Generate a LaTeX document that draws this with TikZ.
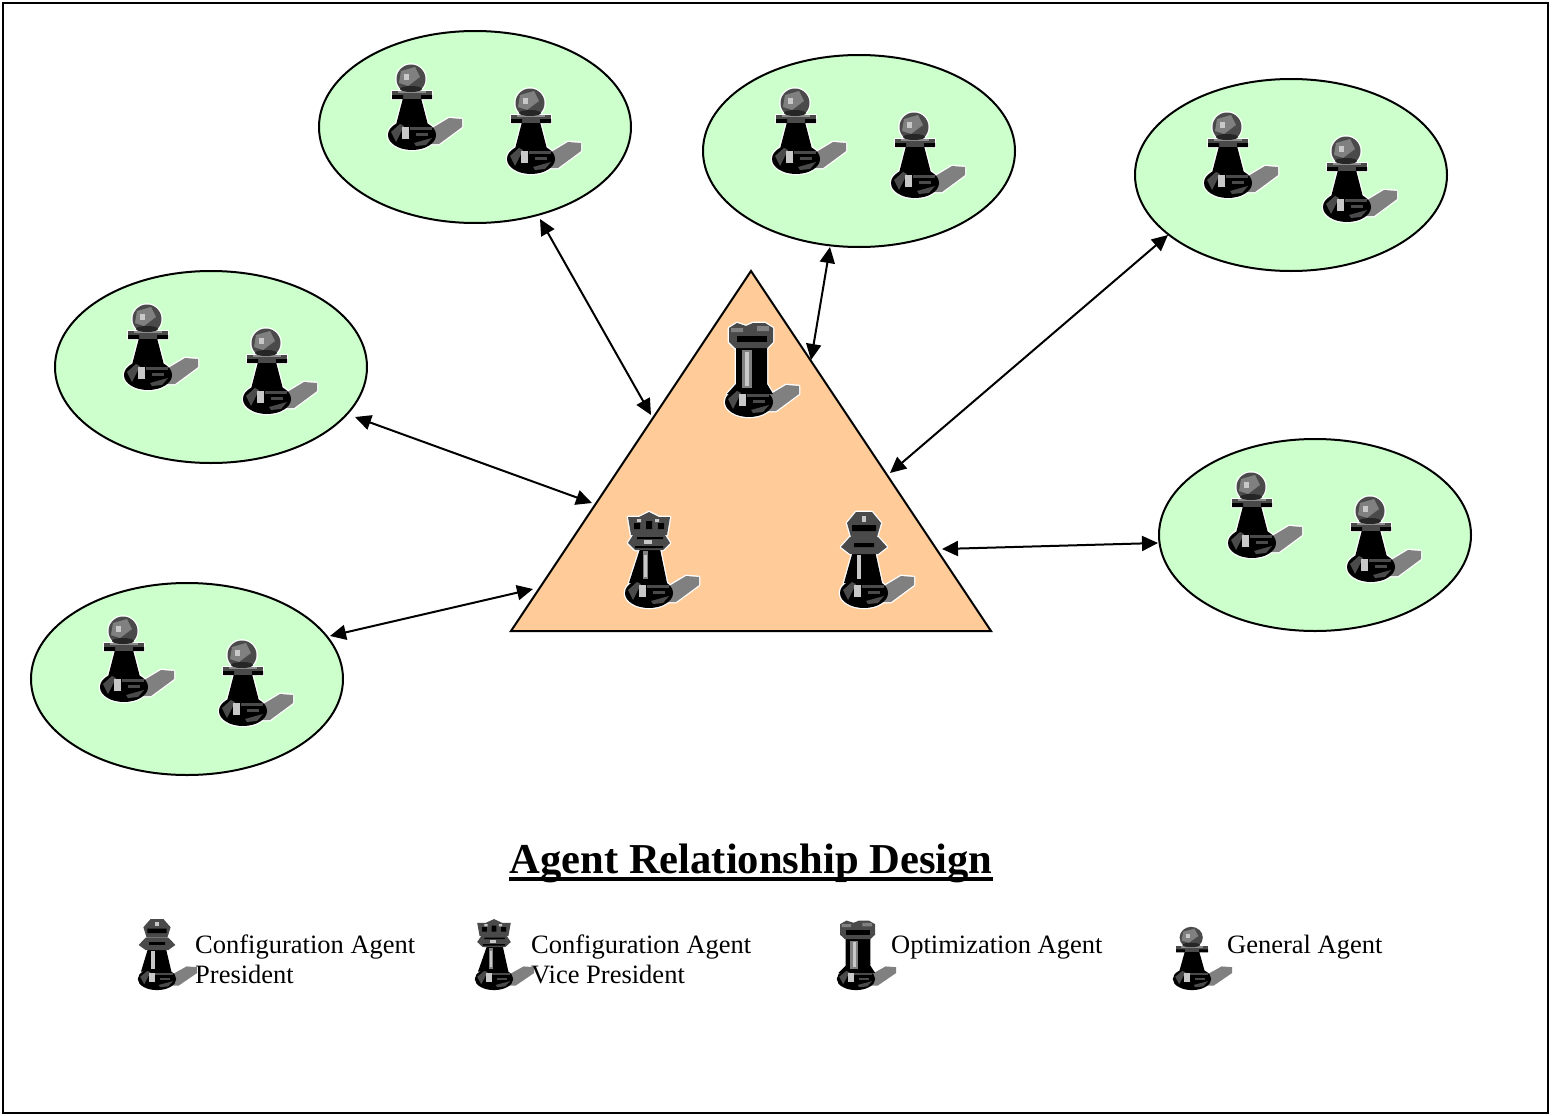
\documentclass[tikz,border=0pt]{standalone}
\usepackage{fontspec}
\setmainfont{Liberation Serif}
\usetikzlibrary{arrows.meta,shapes.geometric}
\definecolor{grp}{HTML}{CCFFCC}
\definecolor{core}{HTML}{FFCC99}
\definecolor{shd}{HTML}{808080}
\definecolor{hd}{HTML}{4A4A4A}
\definecolor{hl}{HTML}{C8C8C8}
\newcommand{\chessshadow}[1]{\path[#1,fill=shd] (14,-4) -- (22,-8) -- (37,-17) -- (50,-16) -- (50,-8) -- (27,9) -- (14,9) -- cycle;}
\newcommand{\chessbase}[1]{\path[#1,fill=black] (0,0) ellipse [x radius=24,y radius=15];}
\newcommand{\chessbasedetail}{
  \fill[hd] (-21,-3) -- (-12,-11) -- (-8,-9) -- (-16,7) -- cycle;
  \fill[hl] (-10,-8) rectangle (-3,4);
  \fill[hd] (-2,-8) rectangle (20,-5);
  \fill[hd] (4,-2) rectangle (16,1);
  \fill[hd] (2,8) -- (20,3) -- (14,10) -- (4,11) -- cycle;
}
\newcommand{\pawnparts}[1]{
  \chessshadow{#1}
  \path[#1,fill=black] (-9,-37) -- (9,-37) -- (16,-10) -- (-16,-10) -- cycle;
  \chessbase{#1}
  \path[#1,fill=hd] (-20,-44) -- (20,-44) -- (20,-36) -- (-20,-36) -- cycle;
  \path[#1,fill=hd] (-1,-56) circle [radius=14.5];
}
\newcommand{\rookparts}[1]{
  \chessshadow{#1}
  \path[#1,fill=black] (-13,-56) -- (18,-56) -- (18,-18) -- (24,-8) -- (-22,-8) -- (-13,-18) -- cycle;
  \chessbase{#1}
  \path[#1,fill=hd] (-20,-74) -- (-12,-79) -- (-3,-76) -- (4,-79) -- (16,-79) -- (24,-74) -- (24,-60) -- (18,-54) -- (-14,-54) -- (-20,-60) -- cycle;
}
\newcommand{\viceparts}[1]{
  \chessshadow{#1}
  \path[#1,fill=black] (-9,-44) -- (11,-44) -- (18,-10) -- (-20,-10) -- cycle;
  \chessbase{#1}
  \path[#1,fill=hd] (-21,-76) -- (-10,-76) -- (0,-81) -- (10,-76) -- (21,-76) -- (18,-58) -- (-18,-58) -- cycle;
  \path[#1,fill=hd] (-16,-58) -- (16,-58) -- (21,-50) -- (14,-43) -- (-14,-43) -- (-21,-50) -- cycle;
}
\newcommand{\presidentparts}[1]{
  \chessshadow{#1}
  \path[#1,fill=black] (-11,-42) -- (11,-42) -- (18,-10) -- (-20,-10) -- cycle;
  \chessbase{#1}
  \path[#1,fill=hd] (-17,-70) -- (-8,-81) -- (8,-81) -- (17,-70) -- (13,-56) -- (-13,-56) -- cycle;
  \path[#1,fill=hd] (-14,-56) -- (14,-56) -- (23,-46) -- (14,-39) -- (-14,-39) -- (-23,-46) -- cycle;
}
\tikzset{
  x=1pt,y=-1pt,
  frame/.style={draw=black,line width=2pt,fill=white},
  group/.style={ellipse,draw=black,line width=2pt,fill=grp,minimum width=312pt,minimum height=192pt,inner sep=0pt,outer sep=0pt},
  tri/.style={draw=black,line width=2pt,fill=core,line join=miter},
  link/.style={draw=black,line width=2pt,{Triangle[length=16pt,width=15pt]}-{Triangle[length=16pt,width=15pt]}},
  halo/.style={draw=white,line width=2.6pt,line join=round},
  plain/.style={},
  legendtext/.style={anchor=north west,align=left,inner sep=0pt,font=\fontsize{26.5}{30}\selectfont},
  titletext/.style={anchor=base,inner sep=0pt,font=\fontsize{42.6}{46}\selectfont\bfseries},
  legendpiece/.style={xscale=.8,yscale=.74},
  pawnpiece/.pic={
    \pawnparts{halo}\pawnparts{plain}
    \fill[black] (-20,-40) rectangle (-9,-36) (9,-40) rectangle (20,-36);
    \fill[hl!70!black] (-14,-44) rectangle (14,-42);
    \fill[black!85] (-1,-46) ellipse [x radius=11,y radius=3];
    \fill[shd] (-11,-64) -- (3,-68) -- (8,-58) -- (-4,-49) -- (-13,-52) -- cycle;
    \fill[hl] (-8,-61) rectangle (-3,-55);
    \chessbasedetail
  },
  rookpiece/.pic={
    \rookparts{halo}\rookparts{plain}
    \fill[black] (-12,-66) rectangle (18,-60);
    \fill[shd] (-18,-74) rectangle (-6,-70) (8,-76) rectangle (20,-71);
    \fill[shd] (-7,-52) rectangle (3,-14);
    \fill[hl] (-4,-50) rectangle (0,-16);
    \chessbasedetail
  },
  vicepiece/.pic={
    \viceparts{halo}\viceparts{plain}
    \fill[black] (-15,-70) rectangle (-9,-64) (-3,-72) rectangle (3,-64) (9,-70) rectangle (15,-64);
    \fill[hl] (-12,-74) rectangle (-8,-71) (6,-74) rectangle (10,-71);
    \fill[black] (-12,-56) rectangle (14,-54) (-14,-47) rectangle (14,-45);
    \fill[hl] (-5,-53) rectangle (3,-49);
    \fill[shd] (-6,-42) rectangle (-1,-14);
    \fill[hl] (-5,-38) rectangle (-2,-16);
    \chessbasedetail
  },
  presidentpiece/.pic={
    \presidentparts{halo}\presidentparts{plain}
    \fill[black] (-12,-68) rectangle (12,-62) (-10,-50) rectangle (10,-46);
    \fill[hl] (-2,-77) rectangle (2,-71);
    \fill[hl] (-7,-38) rectangle (-3,-14);
    \chessbasedetail
  },
}
\begin{document}
\begin{tikzpicture}
\useasboundingbox (0,0) rectangle (1553,1116);
\path[frame] (3,3) rectangle (1548,1113);

% groups
\node[group] (g1) at (475,127) {};
\node[group] (g2) at (859,151) {};
\node[group] (g3) at (1291,175) {};
\node[group] (g4) at (211,367) {};
\node[group] (g5) at (1315,535) {};
\node[group] (g6) at (187,679) {};

% core triangle
\coordinate (apex) at (751,271);
\coordinate (baseL) at (511,631);
\coordinate (baseR) at (991,631);
\path[tri] (apex) -- (baseR) -- (baseL) -- cycle;

% pieces in groups
\foreach \g in {g1,g2,g3,g4,g5,g6}{
  \pic at ([shift={(-63,8)}]\g.center) {pawnpiece};
  \pic at ([shift={(56,32)}]\g.center) {pawnpiece};
}
% pieces in core
\pic at (749,402) {rookpiece};
\pic at (649,593) {vicepiece};
\pic at (864,593) {presidentpiece};

% link ends
\coordinate (e1) at (540,219); \coordinate (t1) at (651,415);
\coordinate (e2) at (830,247); \coordinate (t2) at (811,360);
\coordinate (e3) at (1168,235); \coordinate (t3) at (890,473);
\coordinate (e4) at (355,417); \coordinate (t4) at (592,503);
\coordinate (e5) at (1158,543); \coordinate (t5) at (942,549);
\coordinate (e6) at (330,636); \coordinate (t6) at (533,589);
\foreach \i in {1,...,6}{ \draw[link] (e\i) -- (t\i); }

% title
\node[titletext] (title) at (751,873) {Agent Relationship Design};
\draw[line width=4pt] ([yshift=-6pt]title.base west) -- ([yshift=-6pt]title.base east);

% legend
\pic[legendpiece] at (157,979) {presidentpiece};
\pic[legendpiece] at (494,979) {vicepiece};
\pic[legendpiece] at (856,979) {rookpiece};
\pic[legendpiece] at (1192,979) {pawnpiece};
\node[legendtext] (lab1) at (195,935) {Configuration Agent\\President};
\node[legendtext] (lab2) at (531,935) {Configuration Agent\\Vice President};
\node[legendtext] (lab3) at (891,936) {Optimization Agent};
\node[legendtext] (lab4) at (1227,935) {General Agent};
\end{tikzpicture}
\end{document}
